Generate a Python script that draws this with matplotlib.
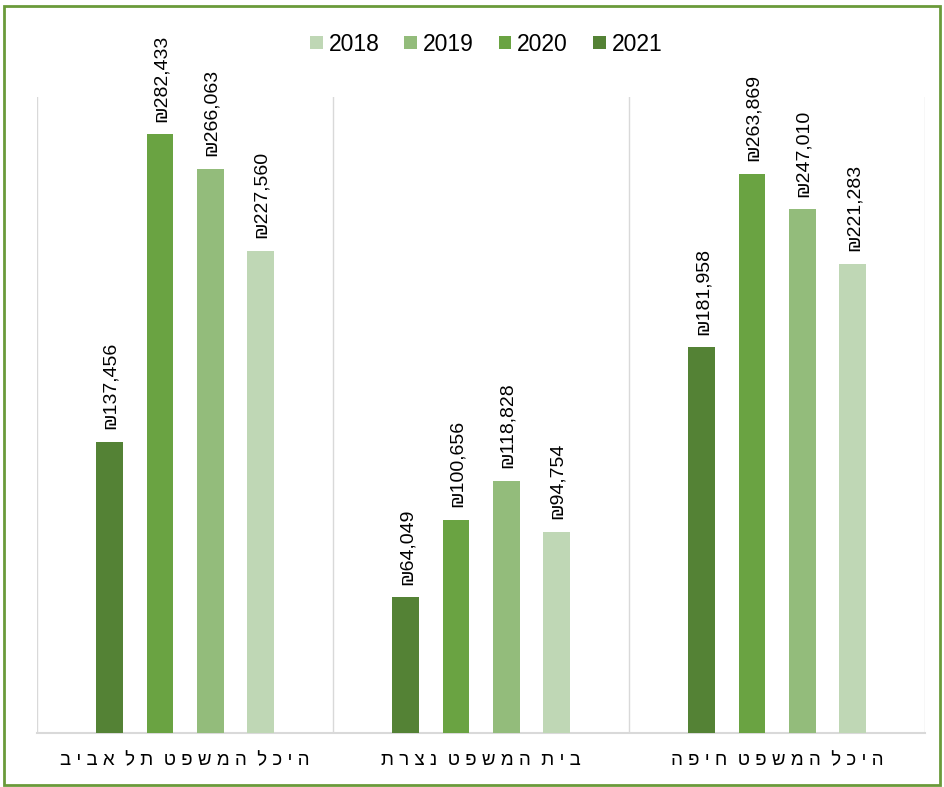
import matplotlib.pyplot as plt
from matplotlib.patches import Rectangle

plt.rcParams['font.family'] = ['Liberation Sans', 'DejaVu Sans']

categories = ['היכל המשפט תל אביב', 'בית המשפט נצרת', 'היכל המשפט חיפה']
years = ['2018', '2019', '2020', '2021']
values = {
    '2021': [137456, 64049, 181958],
    '2020': [282433, 100656, 263869],
    '2019': [266063, 118828, 247010],
    '2018': [227560, 94754, 221283],
}
colors = {'2018': '#BFD7B5', '2019': '#93BC7B', '2020': '#6AA342', '2021': '#548235'}


def rtl_spaced(s):
    # matplotlib has no bidi, so flip the word and letter order by hand
    words = s.split(' ')[::-1]
    return '  '.join(' '.join(w[::-1]) for w in words)


fig = plt.figure(figsize=(9.44, 7.87), dpi=100)
ax = fig.add_axes([0.0392, 0.0686, 0.9408, 0.8081])

bar_order = ['2021', '2020', '2019', '2018']
step = 0.17
width = 0.09
for k, yr in enumerate(bar_order):
    xs = [i + 0.5 + (k - 1.5) * step for i in range(len(categories))]
    ax.bar(xs, values[yr], width=width, color=colors[yr], label=yr, zorder=3)
    for x, v in zip(xs, values[yr]):
        ax.text(x + 0.004, v + 6000, '₪{:,}'.format(v), rotation=90, ha='center', va='bottom',
                fontsize=14, color='#000000')

ax.set_xlim(0, 3)
ax.set_ylim(0, 300000)
ax.set_yticks([])
ax.set_xticks([0.5, 1.5, 2.5])
ax.set_xticklabels([rtl_spaced(c) for c in categories], fontsize=13.5)
ax.tick_params(axis='x', length=0, pad=14)
for s in ['top', 'left', 'right']:
    ax.spines[s].set_visible(False)
ax.spines['bottom'].set_color('#D9D9D9')
ax.spines['bottom'].set_linewidth(1.5)
for gx in [0, 1, 2, 3]:
    ax.axvline(gx, color='#D9D9D9', linewidth=1, zorder=1)

handles, labels = ax.get_legend_handles_labels()
order = [labels.index(y) for y in years]
fig.legend([handles[i] for i in order], years, loc='center', bbox_to_anchor=(0.515, 0.944),
           ncol=4, frameon=False, fontsize=16.5, handlelength=0.55, handleheight=0.55,
           handletextpad=0.25, columnspacing=1.1)

fig.patches.append(Rectangle((0.004, 0.003), 0.992, 0.99, transform=fig.transFigure,
                             fill=False, edgecolor='#6A9A3A', linewidth=2))

fig.savefig('out.png', dpi=100)
